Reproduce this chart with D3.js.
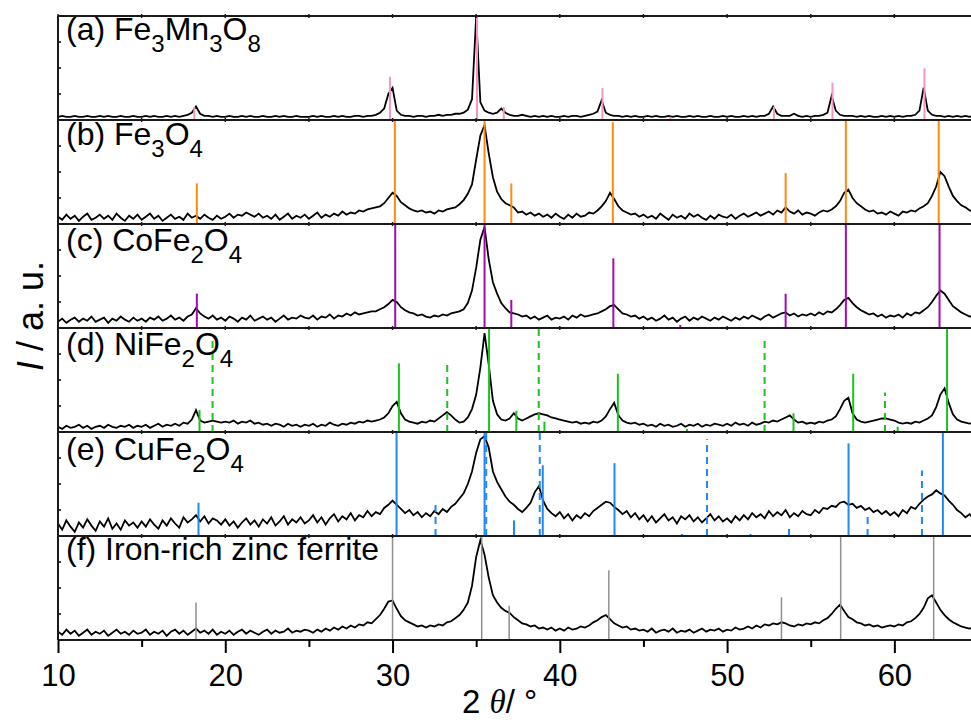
<!DOCTYPE html>
<html lang="en">
<head>
<meta charset="utf-8">
<title>XRD ferrites</title>
<script src="https://d3js.org/d3.v7.min.js"></script>
<style>
body {margin: 0; background: #fff;}
text {font-family: "Liberation Sans", Arial, sans-serif; fill: #000;}
</style>
</head>
<body>
<div id="my_dataviz"></div>
<script>

// sampling of the measured patterns (2 theta, degrees)
var thetaStart = 10, thetaStep = 0.25;

// intensities, % of the panel height, 10 .. 65 deg
var patternA = [
  3,4,3,3,4,3,3,4,3,3,4,3,4,3,3,4,3,3,4,3,
  3,4,3,4,3,3,4,3,4,3,4,5,7,13,6,4,4,3,4,3,
  3,4,3,3,4,3,4,3,3,4,3,3,4,3,4,3,3,4,3,3,
  3,4,3,4,3,3,4,3,4,3,3,4,4,3,4,4,5,7,11,25,
  31,9,5,4,4,3,4,4,3,4,4,5,4,5,5,6,6,7,10,20,
  100,17,9,7,6,7,11,7,5,4,4,5,4,3,4,3,4,3,4,3,
  3,4,3,4,4,3,4,5,6,8,19,7,5,4,4,3,4,3,4,3,
  3,4,3,4,3,3,4,3,4,3,3,4,3,4,3,3,4,3,3,4,
  3,4,3,3,4,3,4,3,4,4,6,13,6,4,4,4,6,4,3,4,
  3,4,4,5,7,23,9,5,4,4,4,3,4,3,4,3,3,4,3,4,
  3,4,3,4,4,5,9,31,9,5,4,4,3,4,3,4,3,4,3,4,
  3];
var patternB = [
  7,4,9,5,8,3,7,10,4,6,9,5,8,4,10,6,3,8,5,9,
  4,7,10,5,8,3,6,9,5,7,4,10,6,8,5,9,6,4,8,5,
  7,10,6,9,8,11,9,7,10,6,8,5,9,4,7,10,5,8,6,9,
  5,8,11,6,9,7,10,8,12,9,11,10,13,12,14,15,16,17,20,25,
  30,27,21,18,15,13,12,13,11,12,10,13,12,14,15,16,19,23,29,38,
  62,85,95,68,45,31,24,20,18,16,11,12,9,11,8,10,7,9,6,10,
  7,5,9,6,10,7,8,11,10,13,17,22,30,24,17,13,11,9,10,7,
  9,6,8,5,10,7,4,9,6,8,5,10,7,9,6,4,8,5,9,7,
  6,9,5,8,10,7,9,11,8,10,12,9,13,11,16,12,10,13,9,11,
  10,8,11,13,12,14,17,22,30,33,25,20,17,14,12,13,10,11,9,12,
  10,8,12,11,13,12,15,17,20,27,36,50,46,36,27,22,18,16,13,12,
  11];
var patternC = [
  6,9,5,8,10,6,9,7,11,6,8,10,5,9,7,11,8,6,10,7,
  9,6,10,8,11,7,9,12,8,10,7,11,13,19,14,11,9,12,8,10,
  7,11,9,6,10,8,12,7,9,11,8,10,6,9,12,8,10,9,12,10,
  9,12,8,11,10,13,9,12,11,14,12,15,13,14,15,16,16,18,20,23,
  27,25,20,17,15,14,12,13,11,10,12,11,13,12,14,15,16,18,24,36,
  58,85,97,66,44,33,24,19,15,14,13,11,12,9,11,8,10,12,8,10,
  9,11,8,12,10,13,11,12,13,14,16,18,21,22,18,14,13,11,12,9,
  11,8,10,7,9,12,8,10,6,9,11,7,10,8,11,9,7,10,8,11,
  9,7,10,8,11,9,12,10,8,11,13,10,12,14,15,12,14,11,13,12,
  14,12,15,13,16,15,18,22,27,29,24,20,17,15,13,14,11,13,10,12,
  11,13,10,14,12,15,14,17,20,25,31,36,33,27,21,18,15,13,11,12,
  10];
var patternD = [
  5,3,6,4,5,7,4,6,3,5,6,4,7,5,4,6,5,7,4,6,
  5,7,4,6,8,5,7,6,8,6,9,8,12,21,11,9,10,11,10,9,
  10,9,11,8,10,9,11,8,9,7,8,6,8,7,5,8,6,7,5,7,
  6,8,5,7,6,9,7,6,8,7,9,8,10,9,11,10,11,12,14,18,
  25,29,18,12,10,9,8,10,9,11,10,13,16,19,16,12,9,10,14,22,
  36,62,95,65,30,17,12,11,13,18,13,11,13,15,17,18,17,16,14,13,
  12,11,10,9,10,8,9,8,10,9,11,15,22,28,16,11,9,8,9,7,
  8,6,7,5,8,6,7,5,6,8,5,7,6,8,5,7,6,8,7,6,
  8,6,9,7,8,6,9,7,8,10,9,11,10,12,14,16,12,9,10,8,
  9,8,10,9,11,12,15,22,30,33,18,12,10,9,10,11,12,13,13,12,
  11,9,8,9,8,10,9,11,13,16,24,36,42,28,17,12,10,9,8,9,
  8];
var patternE = [
  12,6,15,9,4,13,8,16,10,5,14,9,17,7,12,6,15,10,13,8,
  14,9,16,11,7,15,10,17,12,8,18,13,16,20,14,19,12,17,15,11,
  16,10,14,8,13,17,11,15,9,16,12,18,10,14,19,11,16,13,18,12,
  15,20,13,18,11,17,21,14,19,16,22,15,20,18,24,19,23,21,27,30,
  34,30,26,22,25,20,23,18,22,19,24,21,26,23,28,31,36,41,50,62,
  80,93,96,85,62,52,45,38,33,30,26,23,27,32,42,48,34,26,22,19,
  23,17,21,15,20,17,22,19,24,27,30,33,32,28,25,21,24,18,22,16,
  20,14,19,13,17,21,15,18,12,19,16,20,14,18,13,17,21,15,19,14,
  17,13,19,15,20,16,22,18,21,17,24,19,23,20,25,18,22,19,24,21,
  20,25,22,27,26,29,28,32,33,30,31,27,29,25,27,23,25,21,24,20,
  23,19,25,22,28,26,31,35,38,40,44,41,39,34,30,25,22,18,21,16,
  19];
var patternF = [
  8,5,10,6,9,4,7,10,5,8,6,9,4,7,10,6,8,5,9,6,
  7,10,5,8,6,9,4,8,10,6,9,5,8,11,7,9,6,10,5,8,
  6,9,5,8,10,6,9,7,5,8,10,6,9,7,8,11,7,9,8,10,
  9,7,10,8,11,9,12,10,13,11,14,12,15,14,17,16,20,24,30,37,
  38,30,23,19,17,15,13,14,12,14,13,15,14,17,18,21,24,29,36,52,
  80,96,82,60,43,36,31,28,26,22,19,16,15,13,14,11,12,10,12,9,
  11,9,12,10,11,13,12,14,17,19,22,24,20,16,14,12,13,10,11,9,
  10,8,11,7,9,10,8,11,7,9,8,10,7,9,11,8,10,9,11,8,
  10,9,12,10,11,13,11,14,12,15,14,16,15,17,16,14,13,15,14,16,
  15,17,16,19,21,25,30,34,28,22,20,17,16,14,15,13,14,12,13,14,
  13,15,14,17,18,21,25,31,40,43,36,29,24,20,17,15,13,12,11,12,
  10];

// reference (PDF) lines: [2 theta, height in % of panel]
var refA = [[18.15,12.5],[29.85,41.6],[35.05,100],[36.65,12.5],[42.55,30.8],[46.6,3],[52.8,12.8],[56.3,35.9],[61.8,49.7]];
var refB = [[18.3,39],[30.14,100],[35.5,100],[37.1,39],[43.17,98],[53.5,49],[57.1,100],[62.65,100]];
var refC = [[18.3,33],[30.16,100],[35.5,100],[37.1,27],[43.2,67],[47.2,3],[53.5,33],[57.1,100],[62.7,100]];
var refD = [[18.46,21],[30.38,66],[35.77,100],[37.4,20.5],[39.08,10],[43.47,56],[47.6,3],[53.97,18],[57.54,56],[60.2,5],[63.15,100]];
var refDdash = [[19.24,93],[33.27,66],[38.74,100],[52.24,90],[59.44,38]];
var refE = [[18.4,32],[30.24,100],[35.5,100],[37.26,15],[38.98,68],[43.27,70],[47.3,2],[51.4,2],[57.26,89],[62.9,100]];
var refEdash = [[32.57,32],[35.6,100],[38.8,100],[48.8,93],[53.7,10],[58.4,19],[61.65,63]];
var refF = [[18.25,36],[30.0,100],[35.33,100],[36.97,33],[42.93,67],[53.25,41],[56.79,100],[62.35,100]];

// panel labels, second item = subscript
var labelA = [["(a) Fe",0],["3",1],["Mn",0],["3",1],["O",0],["8",1]];
var labelB = [["(b) Fe",0],["3",1],["O",0],["4",1]];
var labelC = [["(c) CoFe",0],["2",1],["O",0],["4",1]];
var labelD = [["(d) NiFe",0],["2",1],["O",0],["4",1]];
var labelE = [["(e) CuFe",0],["2",1],["O",0],["4",1]];
var labelF = [["(f) Iron-rich zinc ferrite",0]];

var majorTicks = [10,20,30,40,50,60];
var minorTicks = [15,25,35,45,55,65];

var panels = [
  {data: patternA, ref: refA, dash: [], color: "#f595c2", width: 2, label: labelA, base: 36},
  {data: patternB, ref: refB, dash: [], color: "#ff8a0d", width: 2, label: labelB, base: 37},
  {data: patternC, ref: refC, dash: [], color: "#a30ab0", width: 2, label: labelC, base: 39},
  {data: patternD, ref: refD, dash: refDdash, color: "#1ec21e", width: 2, label: labelD, base: 39},
  {data: patternE, ref: refE, dash: refEdash, color: "#1f88f2", width: 2, label: labelE, base: 40},
  {data: patternF, ref: refF, dash: [], color: "#8f8f8f", width: 1.5, label: labelF, base: 36}
];

// layout
var W = 971, H = 723;
var left = 58, top0 = 16, panelH = 104;
var bottom = top0 + panelH * panels.length;

var svg = d3.select("#my_dataviz")
  .append("svg")
    .attr("width", W)
    .attr("height", H);

var x = d3.scaleLinear()
  .domain([10, 65])
  .range([left, 978]);

svg.append("clipPath")
    .attr("id", "plotclip")
  .append("rect")
    .attr("x", left)
    .attr("y", top0 - 1)
    .attr("width", W - left)
    .attr("height", bottom - top0 + 1);

var plot = svg.append("g").attr("clip-path", "url(#plotclip)");

panels.forEach(function(p, i) {
  var y = d3.scaleLinear()
    .domain([0, 100])
    .range([top0 + panelH * (i + 1), top0 + panelH * i]);

  var line = d3.line()
    .x(function(d, k) { return x(thetaStart + k * thetaStep); })
    .y(function(d) { return y(d); });

  plot.append("path")
    .datum(p.data)
    .attr("fill", "none")
    .attr("stroke", "#000")
    .attr("stroke-width", 1.8)
    .attr("stroke-linejoin", "miter")
    .attr("d", line);

  // reference sticks
  plot.selectAll(".ref" + i)
    .data(p.ref)
    .enter()
    .append("line")
      .attr("x1", function(d) { return x(d[0]); })
      .attr("x2", function(d) { return x(d[0]); })
      .attr("y1", y(0))
      .attr("y2", function(d) { return y(d[1]); })
      .attr("stroke", p.color)
      .attr("stroke-width", p.width);

  plot.selectAll(".refdash" + i)
    .data(p.dash)
    .enter()
    .append("line")
      .attr("x1", function(d) { return x(d[0]); })
      .attr("x2", function(d) { return x(d[0]); })
      .attr("y1", y(0))
      .attr("y2", function(d) { return y(d[1]); })
      .attr("stroke", p.color)
      .attr("stroke-width", p.width)
      .attr("stroke-dasharray", "7,5");

  // left inner ticks
  [25, 50, 75].forEach(function(v) {
    svg.append("line")
      .attr("x1", left).attr("x2", left + 3)
      .attr("y1", y(v)).attr("y2", y(v))
      .attr("stroke", "#000").attr("stroke-width", 1.5);
  });

  // label with subscripts
  var t = svg.append("text")
    .attr("x", 66)
    .attr("y", top0 + panelH * i + p.base)
    .style("font-size", "32px");
  p.label.forEach(function(part) {
    t.append("tspan")
      .attr("dy", part[1] ? 12 : (t.selectAll("tspan").size() > 0 ? -12 : 0))
      .style("font-size", part[1] ? "24px" : "32px")
      .text(part[0]);
  });
});

// panel frame lines
d3.range(panels.length + 1).forEach(function(i) {
  var yy = top0 + panelH * i;
  svg.append("line")
    .attr("x1", left).attr("x2", W)
    .attr("y1", yy).attr("y2", yy)
    .attr("stroke", "#1a1a1a").attr("stroke-width", 2);
  // small ticks on the separators
  majorTicks.concat(minorTicks).forEach(function(v) {
    if (i == panels.length) return;
    svg.append("line")
      .attr("x1", x(v)).attr("x2", x(v))
      .attr("y1", yy - 2).attr("y2", yy + 2)
      .attr("stroke", "#1a1a1a").attr("stroke-width", 1.5);
  });
});
svg.append("line")
  .attr("x1", left).attr("x2", left)
  .attr("y1", top0).attr("y2", bottom)
  .attr("stroke", "#1a1a1a").attr("stroke-width", 2);

// bottom axis
var xAxis = svg.append("g")
  .attr("transform", "translate(0," + bottom + ")")
  .call(d3.axisBottom(x).tickValues(majorTicks).tickSize(13).tickPadding(11).tickFormat(d3.format("d")));
xAxis.select(".domain").remove();
xAxis.selectAll("line").attr("stroke", "#000").attr("stroke-width", 2);
xAxis.selectAll("text")
  .style("font-size", "31px")
  .style("font-family", "'Liberation Sans', Arial, sans-serif");

var xMinor = svg.append("g")
  .attr("transform", "translate(0," + bottom + ")")
  .call(d3.axisBottom(x).tickValues(minorTicks).tickSize(7).tickFormat(""));
xMinor.select(".domain").remove();
xMinor.selectAll("line").attr("stroke", "#000").attr("stroke-width", 2);

// axis titles
var xt = svg.append("text")
  .attr("x", 462)
  .attr("y", 713)
  .style("font-size", "33px");
xt.append("tspan").text("2 ");
xt.append("tspan")
  .style("font-family", "'Liberation Serif', serif")
  .style("font-style", "italic")
  .text("θ");
xt.append("tspan").text("/ °");

var yt = svg.append("text")
  .attr("transform", "translate(43,316) rotate(-90)")
  .attr("text-anchor", "middle")
  .style("font-size", "36px");
yt.append("tspan").style("font-style", "italic").text("I");
yt.append("tspan").text(" / a. u.");

</script>
</body>
</html>
